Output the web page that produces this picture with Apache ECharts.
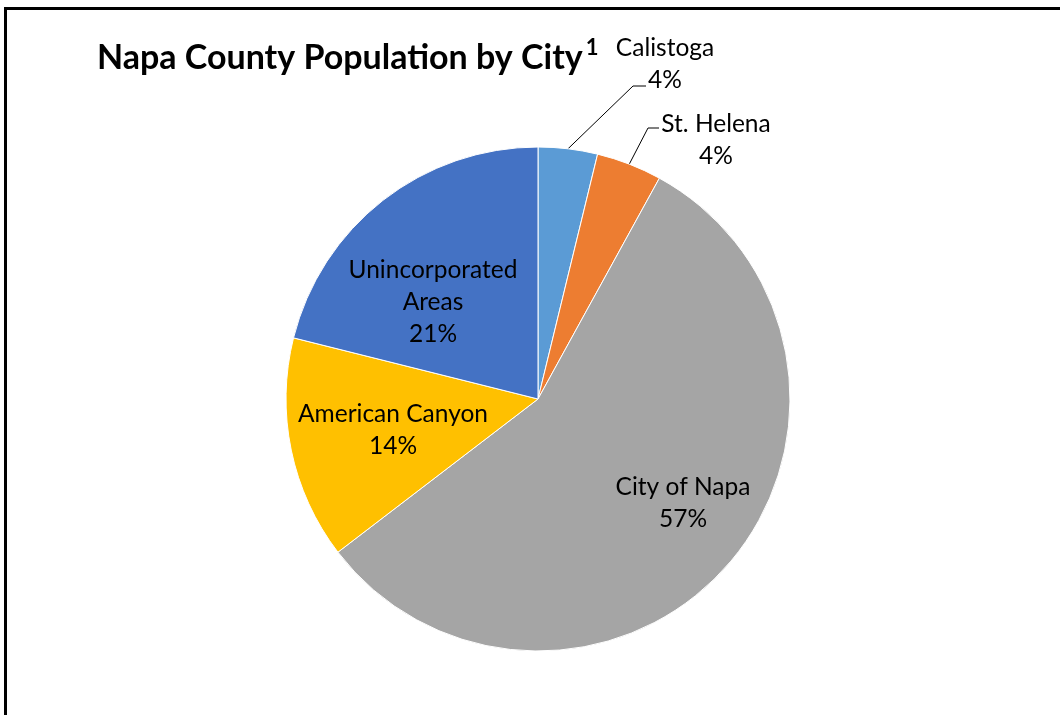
<!DOCTYPE html>
<html>
<head>
<meta charset="utf-8">
<script src="https://cdn.jsdelivr.net/npm/echarts@6/dist/echarts.min.js"></script>
<style>
  html, body { margin: 0; padding: 0; background: #fff; }
  #chart { width: 1060px; height: 715px; }
</style>
</head>
<body>
<div id="chart"></div>
<script>
const titleText = 'Napa County Population by City';
const titleNote = '1';
const categories = ['Calistoga', 'St. Helena', 'City of Napa', 'American Canyon', 'Unincorporated\nAreas'];
const shares = [3.8, 4.2, 56.6, 14.3, 21.1];
const colors = ['#5B9BD5', '#ED7D31', '#A5A5A5', '#FFC000', '#4472C4'];

// label anchor placement (layout only)
const labelPlacement = [
  { x: 665, y: 64, line: [[633, 86], [646, 86]] },
  { x: 716, y: 140, line: [[648, 128], [659, 128]] },
  { x: 683, y: 503 },
  { x: 393, y: 430 },
  { x: 433, y: 302 }
];

const chart = echarts.init(document.getElementById('chart'), null, { renderer: 'canvas' });
const FONT = 'Lato';

const data = categories.map((c, i) => ({
  name: c,
  value: shares[i],
  itemStyle: { color: colors[i] },
  label: { position: i < 2 ? 'outside' : 'inside' },
  labelLine: { show: i < 2 }
}));

chart.setOption({
  animation: false,
  backgroundColor: '#fff',
  graphic: [{
    type: 'rect',
    shape: { x: 5.5, y: 8.5, width: 1200, height: 900 },
    style: { fill: 'none', stroke: '#000', lineWidth: 3 },
    silent: true
  }],
  title: {
    text: '{t|' + titleText + '}{s|' + titleNote + '}',
    left: 92,
    top: 32,
    textStyle: {
      rich: {
        t: { fontFamily: FONT, fontWeight: 'bold', fontSize: 34, color: '#000', lineHeight: 42 },
        s: { fontFamily: FONT, fontWeight: 'bold', fontSize: 22, color: '#000', verticalAlign: 'top', lineHeight: 42, padding: [0, 0, 16, 3] }
      }
    }
  },
  series: [{
    type: 'pie',
    center: [538, 399],
    radius: ['0%', 252],
    startAngle: 90,
    clockwise: true,
    avoidLabelOverlap: false,
    itemStyle: { borderColor: '#fff', borderWidth: 1 },
    label: {
      show: true,
      color: '#000',
      fontFamily: FONT,
      fontSize: 24.5,
      lineHeight: 32,
      align: 'center',
      formatter: p => p.name + '\n' + Math.round(p.percent) + '%'
    },
    labelLine: { show: true, lineStyle: { color: '#000', width: 1 }, length: 10, length2: 10 },
    labelLayout: function (params) {
      const pl = labelPlacement[params.dataIndex];
      const out = { x: pl.x, y: pl.y, align: 'center', verticalAlign: 'middle' };
      if (pl.line && params.labelLinePoints) {
        out.labelLinePoints = [params.labelLinePoints[0], pl.line[0], pl.line[1]];
      }
      return out;
    },
    emphasis: { disabled: true },
    data: data
  }]
});
</script>
</body>
</html>
